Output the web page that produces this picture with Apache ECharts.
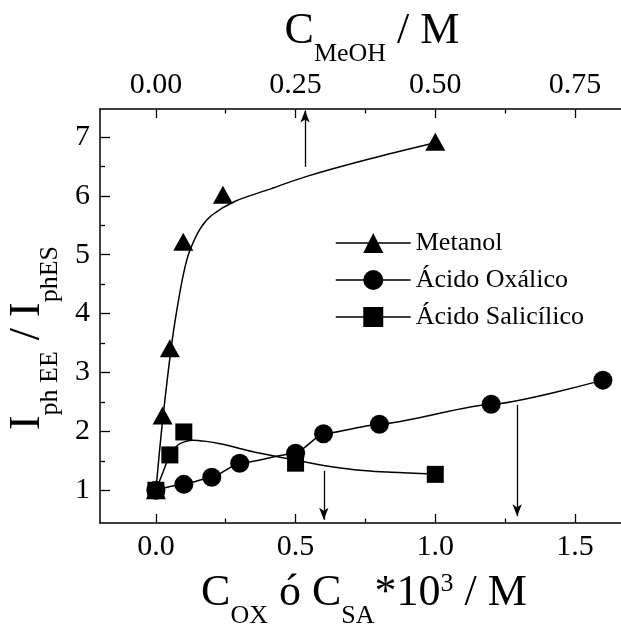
<!DOCTYPE html>
<html>
<head>
<meta charset="utf-8">
<script src="https://cdn.jsdelivr.net/npm/echarts@6/dist/echarts.min.js"></script>
<style>
  html, body { margin: 0; padding: 0; background: #fff; }
  #chart { width: 621px; height: 627px; }
</style>
</head>
<body>
<div id="chart"></div>
<script>
// ---- datos ----
// Metanol: eje superior (C_MeOH / M)
const metanolX = [0, 0.012, 0.025, 0.049, 0.12, 0.5];
const metanolY = [1.0, 2.27, 3.41, 5.22, 6.02, 6.92];
// curva de ajuste del metanol
const metanolFitX = [0, 0.01, 0.02, 0.03, 0.04, 0.05, 0.06, 0.08, 0.1, 0.14, 0.2, 0.27, 0.38, 0.5];
const metanolFitY = [1.0, 2.0, 2.85, 3.6, 4.2, 4.7, 5.05, 5.45, 5.67, 5.9, 6.1, 6.33, 6.62, 6.9];

// Ácido oxálico: eje inferior (C * 10^3 / M)
const oxalicoX = [0, 0.1, 0.2, 0.3, 0.5, 0.6, 0.8, 1.2, 1.6];
const oxalicoY = [1.0, 1.1, 1.22, 1.46, 1.63, 1.96, 2.12, 2.46, 2.87];

// Ácido salicílico
const salicilicoX = [0, 0.05, 0.1, 0.5, 1.0];
const salicilicoY = [1.0, 1.6, 1.99, 1.46, 1.27];
const salicilicoFitX = [0, 0.025, 0.05, 0.07, 0.09, 0.13, 0.18, 0.23, 0.3, 0.35, 0.47, 0.59, 0.71, 0.83, 0.97];
const salicilicoFitY = [1.0, 1.3, 1.6, 1.73, 1.8, 1.85, 1.83, 1.79, 1.71, 1.65, 1.54, 1.43, 1.35, 1.31, 1.28];

// flechas [x, yDesde, yHasta]
const arrowMetanol = [0.267, 6.49, 7.45];
const arrowSalicilico = [0.601, 1.33, 0.5];
const arrowOxalico = [1.293, 2.45, 0.56];

// marcas de los ejes
const bottomTicks = [0, 0.5, 1.0, 1.5];
const bottomMinor = [0.25, 0.75, 1.25];
const topTicks = [0, 0.25, 0.5, 0.75];
const topMinor = [0.125, 0.375, 0.625];
const yTicks = [1, 2, 3, 4, 5, 6, 7];
const yMinor = [1.5, 2.5, 3.5, 4.5, 5.5, 6.5];

const serif = "Liberation Serif";
const zip = (xs, ys) => xs.map((x, i) => [x, ys[i]]);

const chart = echarts.init(document.getElementById("chart"));

const axisLine = { show: true, onZero: false, lineStyle: { color: "#000", width: 1.5 } };
const noLine = { show: false, onZero: false };
const labelStyle = { color: "#000", fontSize: 30, fontFamily: serif };
const tickLine = { color: "#000", width: 1.3 };

function arrowLine(a) {
  return {
    silent: true,
    symbol: ["none", "arrow"],
    symbolSize: [7, 12],
    label: { show: false },
    lineStyle: { color: "#000", width: 1.3, type: "solid" },
    data: [[{ coord: [a[0], a[1]] }, { coord: [a[0], a[2]] }]]
  };
}

const titleRich = {
  m: { fontSize: 44, fontFamily: serif, fill: "#000", verticalAlign: "top" },
  s: { fontSize: 26, fontFamily: serif, fill: "#000", verticalAlign: "top", padding: [32, 0, 0, 0] },
  p: { fontSize: 26, fontFamily: serif, fill: "#000", verticalAlign: "top", padding: [0, 0, 0, 0] }
};

const option = {
  animation: false,
  backgroundColor: "#fff",
  color: ["#000"],
  grid: { left: 100, right: 0, top: 109, bottom: 104 },
  legend: {
    orient: "vertical",
    left: 335,
    top: 229,
    padding: 0,
    itemWidth: 75,
    itemHeight: 25,
    itemGap: 9,
    data: ["Metanol", "Ácido Oxálico", "Ácido Salicílico"],
    textStyle: { color: "#000", fontSize: 26, fontFamily: serif, lineHeight: 28 },
    itemStyle: { color: "#000" },
    lineStyle: { color: "#000", width: 1.5 }
  },
  xAxis: [
    {
      type: "value", position: "bottom", min: -0.2, max: 1.6647,
      axisLine: axisLine,
      splitLine: { show: false },
      axisTick: { inside: true, length: 9, customValues: bottomTicks, lineStyle: tickLine },
      axisLabel: { customValues: bottomTicks, margin: 9, formatter: v => v.toFixed(1), ...labelStyle }
    },
    {
      type: "value", position: "top", min: -0.1, max: 0.83235,
      axisLine: axisLine,
      splitLine: { show: false },
      axisTick: { inside: true, length: 9, customValues: topTicks, lineStyle: tickLine },
      axisLabel: { customValues: topTicks, margin: 9, formatter: v => v.toFixed(2), ...labelStyle }
    },
    {
      type: "value", position: "bottom", min: -0.2, max: 1.6647,
      axisLine: noLine,
      splitLine: { show: false },
      axisTick: { inside: true, length: 4.5, customValues: bottomMinor, lineStyle: tickLine },
      axisLabel: { show: false }
    },
    {
      type: "value", position: "top", min: -0.1, max: 0.83235,
      axisLine: noLine,
      splitLine: { show: false },
      axisTick: { inside: true, length: 4.5, customValues: topMinor, lineStyle: tickLine },
      axisLabel: { show: false }
    }
  ],
  yAxis: [
    {
      type: "value", position: "left", min: 0.444, max: 7.474,
      axisLine: axisLine,
      splitLine: { show: false },
      axisTick: { inside: true, length: 10, customValues: yTicks, lineStyle: tickLine },
      axisLabel: { customValues: yTicks, margin: 10, formatter: v => String(v), ...labelStyle }
    },
    {
      type: "value", position: "left", min: 0.444, max: 7.474,
      axisLine: noLine,
      splitLine: { show: false },
      axisTick: { inside: true, length: 5, customValues: yMinor, lineStyle: tickLine },
      axisLabel: { show: false }
    }
  ],
  graphic: [
    {
      type: "text", x: 372, y: 9,
      style: { text: "{m|C}{s|MeOH}{m| / M}", align: "center", verticalAlign: "top", rich: titleRich }
    },
    {
      type: "text", x: 364, y: 571,
      style: { text: "{m|C}{s|OX}{m| ó C}{s|SA}{m|*10}{p|3}{m| / M}", align: "center", verticalAlign: "top", rich: titleRich }
    },
    {
      type: "text", x: 5, y: 338, rotation: Math.PI / 2,
      style: { text: "{m|I}{s|ph EE}{m| / I}{s|phES}", align: "center", verticalAlign: "top", rich: titleRich }
    }
  ],
  series: [
    {
      name: "Metanol", type: "line", xAxisIndex: 1, yAxisIndex: 0,
      data: zip(metanolFitX, metanolFitY),
      smooth: 0.35,
      symbol: "triangle", symbolSize: [20, 18], showSymbol: false,
      lineStyle: { color: "#000", width: 1.5 }, itemStyle: { color: "#000" },
      z: 2
    },
    {
      name: "Ácido Oxálico", type: "line", xAxisIndex: 0, yAxisIndex: 0,
      data: zip(oxalicoX, oxalicoY),
      smooth: 0.2, smoothMonotone: "x",
      symbol: "circle", symbolSize: 19, showSymbol: true,
      lineStyle: { color: "#000", width: 1.5 }, itemStyle: { color: "#000" },
      markLine: arrowLine(arrowOxalico),
      z: 3
    },
    {
      name: "Ácido Salicílico", type: "line", xAxisIndex: 0, yAxisIndex: 0,
      data: zip(salicilicoFitX, salicilicoFitY),
      smooth: 0.3,
      symbol: "rect", symbolSize: 17, showSymbol: false,
      lineStyle: { color: "#000", width: 1.5 }, itemStyle: { color: "#000" },
      markLine: arrowLine(arrowSalicilico),
      z: 2
    },
    {
      name: "Metanol", type: "scatter", xAxisIndex: 1, yAxisIndex: 0,
      data: zip(metanolX, metanolY),
      symbol: "triangle", symbolSize: [20, 18],
      itemStyle: { color: "#000", opacity: 1 },
      markLine: arrowLine(arrowMetanol),
      z: 4
    },
    {
      name: "Ácido Salicílico", type: "scatter", xAxisIndex: 0, yAxisIndex: 0,
      data: zip(salicilicoX, salicilicoY),
      symbol: "rect", symbolSize: 17,
      itemStyle: { color: "#000", opacity: 1 },
      z: 5
    }
  ]
};

chart.setOption(option);
</script>
</body>
</html>
